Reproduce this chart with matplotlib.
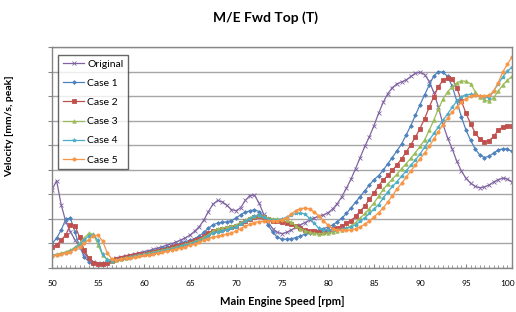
import numpy as np
import matplotlib
matplotlib.use("Agg")
import matplotlib.pyplot as plt
import matplotlib.transforms as mtransforms
from matplotlib.ticker import MultipleLocator, NullFormatter

# engine speed, 50..100 rpm in 0.5 steps
rpm = np.arange(50, 100.01, 0.5)

original = [3.18, 3.56, 2.57, 1.89, 1.48, 1.14, 0.87, 0.60, 0.40, 0.26,
            0.19, 0.18, 0.24, 0.33, 0.40, 0.45, 0.50, 0.54, 0.58, 0.62,
            0.67, 0.71, 0.76, 0.81, 0.87, 0.93, 0.99, 1.06, 1.14, 1.23,
            1.34, 1.50, 1.68, 1.95, 2.30, 2.60, 2.75, 2.70, 2.55, 2.38,
            2.33, 2.45, 2.75, 2.95, 2.97, 2.65, 2.20, 1.85, 1.60, 1.45,
            1.40, 1.45, 1.55, 1.65, 1.76, 1.85, 1.95, 2.04, 2.10, 2.16,
            2.25, 2.40, 2.62, 2.90, 3.25, 3.62, 4.05, 4.50, 4.95, 5.35,
            5.80, 6.30, 6.75, 7.10, 7.35, 7.50, 7.58, 7.66, 7.80, 7.93,
            7.97, 7.88, 7.60, 7.15, 6.55, 5.85, 5.30, 4.85, 4.35, 3.95,
            3.65, 3.45, 3.32, 3.27, 3.30, 3.38, 3.50, 3.60, 3.66, 3.62,
            3.50]
case1 = [1.00, 1.21, 1.55, 1.99, 2.03, 1.45, 0.87, 0.46, 0.26, 0.19,
         0.18, 0.20, 0.23, 0.30, 0.37, 0.42, 0.46, 0.50, 0.54, 0.58,
         0.62, 0.66, 0.71, 0.75, 0.80, 0.85, 0.90, 0.95, 1.01, 1.07,
         1.13, 1.20, 1.30, 1.45, 1.62, 1.76, 1.83, 1.86, 1.88, 1.93,
         2.03, 2.17, 2.27, 2.33, 2.37, 2.30, 2.10, 1.75, 1.45, 1.25,
         1.18, 1.17, 1.19, 1.24, 1.30, 1.38, 1.44, 1.49, 1.54, 1.60,
         1.67, 1.75, 1.88, 2.03, 2.22, 2.45, 2.68, 2.91, 3.15, 3.38,
         3.60, 3.76, 3.98, 4.25, 4.50, 4.78, 5.05, 5.42, 5.80, 6.22,
         6.65, 7.05, 7.45, 7.82, 8.00, 7.97, 7.80, 7.40, 6.80, 6.15,
         5.62, 5.20, 4.85, 4.60, 4.50, 4.55, 4.68, 4.80, 4.86, 4.84,
         4.75]
case2 = [0.84, 0.93, 1.14, 1.35, 1.76, 1.72, 1.25, 0.73, 0.40, 0.22,
         0.16, 0.15, 0.19, 0.28, 0.36, 0.40, 0.44, 0.48, 0.52, 0.56,
         0.59, 0.63, 0.67, 0.71, 0.75, 0.79, 0.84, 0.89, 0.94, 0.99,
         1.05, 1.12, 1.20, 1.32, 1.44, 1.52, 1.56, 1.60, 1.63, 1.66,
         1.72, 1.82, 1.92, 2.00, 2.08, 2.12, 2.06, 1.98, 1.92, 1.90,
         1.88, 1.85, 1.80, 1.70, 1.62, 1.56, 1.52, 1.50, 1.48, 1.48,
         1.52, 1.57, 1.64, 1.72, 1.82, 1.93, 2.10, 2.32, 2.52, 2.80,
         3.05, 3.35, 3.58, 3.77, 3.98, 4.20, 4.45, 4.72, 5.02, 5.33,
         5.68, 6.08, 6.55, 6.98, 7.38, 7.65, 7.74, 7.70, 7.35, 6.80,
         6.30, 5.88, 5.50, 5.25, 5.15, 5.18, 5.36, 5.60, 5.75, 5.80,
         5.80]
case3 = [0.53, 0.56, 0.60, 0.66, 0.73, 0.84, 1.00, 1.22, 1.41, 1.38,
         0.95, 0.53, 0.35, 0.30, 0.33, 0.38, 0.42, 0.46, 0.50, 0.53,
         0.57, 0.61, 0.65, 0.69, 0.73, 0.77, 0.81, 0.86, 0.91, 0.96,
         1.02, 1.08, 1.15, 1.25, 1.36, 1.50, 1.60, 1.63, 1.66, 1.70,
         1.76, 1.85, 1.95, 2.05, 2.13, 2.16, 2.10, 2.04, 2.01, 1.99,
         1.98, 1.96, 1.86, 1.72, 1.60, 1.52, 1.45, 1.41, 1.40, 1.41,
         1.43, 1.46, 1.50, 1.56, 1.63, 1.72, 1.85, 2.03, 2.22, 2.42,
         2.65, 2.92, 3.20, 3.42, 3.62, 3.82, 4.05, 4.25, 4.47, 4.70,
         4.95, 5.22, 5.60, 6.02, 6.48, 6.88, 7.18, 7.38, 7.54, 7.62,
         7.60, 7.50, 7.18, 6.95, 6.84, 6.79, 6.93, 7.20, 7.45, 7.65,
         7.80]
case4 = [0.50, 0.53, 0.57, 0.62, 0.68, 0.80, 0.95, 1.15, 1.30, 1.36,
         1.12, 0.55, 0.33, 0.30, 0.33, 0.37, 0.41, 0.44, 0.48, 0.51,
         0.55, 0.58, 0.62, 0.66, 0.70, 0.74, 0.78, 0.83, 0.88, 0.93,
         0.98, 1.04, 1.10, 1.20, 1.32, 1.42, 1.48, 1.52, 1.56, 1.61,
         1.68, 1.78, 1.90, 2.00, 2.10, 2.14, 2.06, 1.98, 1.96, 1.97,
         2.00, 2.06, 2.16, 2.22, 2.24, 2.20, 2.02, 1.82, 1.62, 1.56,
         1.54, 1.54, 1.55, 1.57, 1.61, 1.67, 1.76, 1.90, 2.05, 2.22,
         2.40, 2.58, 2.85, 3.10, 3.32, 3.52, 3.74, 3.96, 4.18, 4.40,
         4.64, 4.92, 5.20, 5.48, 5.74, 6.02, 6.28, 6.55, 6.79, 6.98,
         7.06, 7.07, 7.04, 7.00, 6.96, 6.93, 7.20, 7.50, 7.78, 8.02,
         8.18]
case5 = [0.49, 0.52, 0.56, 0.61, 0.67, 0.76, 0.87, 1.00, 1.16, 1.31,
         1.33, 1.10, 0.62, 0.36, 0.33, 0.36, 0.39, 0.42, 0.45, 0.48,
         0.51, 0.54, 0.58, 0.61, 0.65, 0.69, 0.73, 0.77, 0.82, 0.87,
         0.92, 0.98, 1.05, 1.13, 1.20, 1.25, 1.29, 1.33, 1.38, 1.43,
         1.50, 1.60, 1.70, 1.78, 1.85, 1.89, 1.90, 1.91, 1.92, 1.93,
         1.97, 2.05, 2.20, 2.34, 2.42, 2.44, 2.40, 2.28, 2.12, 1.93,
         1.74, 1.60, 1.55, 1.53, 1.53, 1.55, 1.60, 1.68, 1.78, 1.92,
         2.08, 2.25, 2.45, 2.68, 2.95, 3.22, 3.45, 3.70, 3.95, 4.20,
         4.45, 4.68, 4.95, 5.25, 5.55, 5.84, 6.10, 6.35, 6.55, 6.74,
         6.90, 6.99, 7.03, 7.02, 7.01, 7.03, 7.20, 7.55, 7.98, 8.30,
         8.60]

labels = ["Original", "Case 1", "Case 2", "Case 3", "Case 4", "Case 5"]
series = [original, case1, case2, case3, case4, case5]
colors = ["#8064A2", "#4F81BD", "#C0504D", "#9BBB59", "#4BACC6", "#F79646"]
markers = ["x", "D", "s", "^", "*", "o"]
msizes = [2.6, 1.9, 2.3, 2.5, 2.8, 2.3]

plt.rcParams['font.family'] = ['Lato', 'DejaVu Sans']

fig = plt.figure(figsize=(5.16, 3.12), dpi=100)
ax = fig.add_axes([52/516, 44/312, 460/516, 221/312])

for y, lab, c, m, ms in zip(series, labels, colors, markers, msizes):
    ax.plot(rpm, y, color=c, lw=0.9, marker=m, ms=ms, mew=0.6,
            mec=c, mfc=c, label=lab)

ax.set_xlim(50, 100)
ax.set_ylim(0, 9)
ax.xaxis.set_major_locator(MultipleLocator(5))
ax.xaxis.set_minor_locator(MultipleLocator(0.5))
ax.yaxis.set_major_locator(MultipleLocator(1))
ax.yaxis.set_major_formatter(NullFormatter())
ax.grid(axis='y', color='#A6A6A6', lw=1.0)
ax.set_axisbelow(True)
ax.tick_params(axis='x', which='major', labelsize=6, length=3, direction='in', color='#868686', pad=9)
ax.tick_params(axis='x', which='minor', length=2, direction='in', color='#868686')
ax.tick_params(axis='y', length=3, direction='out', color='#868686')
for s in ax.spines.values():
    s.set_color('#868686')
    s.set_linewidth(1.0)

# keep the "100" label inside the picture
fig.canvas.draw()
for lbl in ax.get_xticklabels():
    if lbl.get_text() == "100":
        lbl.set_horizontalalignment('right')
        lbl.set_transform(lbl.get_transform() + mtransforms.ScaledTranslation(3/100, 0, fig.dpi_scale_trans))

ax.set_xlabel("Main Engine Speed [rpm]", fontsize=8, fontweight='bold', labelpad=6)
ax.set_ylabel("Velocity [mm/s, peak]", fontsize=7.5, fontweight='bold')
ax.yaxis.set_label_coords(-0.083, 0.64)
fig.suptitle("M/E Fwd Top (T)", fontsize=10, fontweight='bold', x=0.515, y=0.965)

leg = ax.legend(loc='upper left', bbox_to_anchor=(0.014, 0.965), fontsize=7.5,
                frameon=True, fancybox=False, handlelength=2.0, handletextpad=0.3,
                borderpad=0.45, labelspacing=0.95, borderaxespad=0.0)
leg.get_frame().set_edgecolor('#404040')
leg.get_frame().set_linewidth(1.0)

fig.savefig("out.png", dpi=100)
